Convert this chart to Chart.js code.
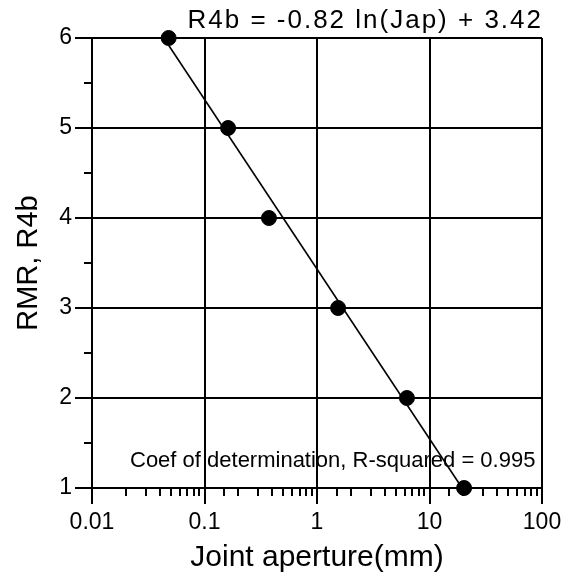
<!DOCTYPE html>
<html>
<head>
<meta charset="utf-8">
<script src="https://cdn.jsdelivr.net/npm/chart.js@4.4.1/dist/chart.umd.min.js"></script>
<style>
  html, body { margin: 0; padding: 0; background: #fff; }
  canvas { display: block; }
</style>
</head>
<body>
<canvas id="chart" width="571" height="584"></canvas>
<script>
// Joint aperture vs RMR rating (R4b)
const jointAperture = [0.048, 0.162, 0.374, 1.54, 6.3, 20.3];
const rmrRating = [6, 5, 4, 3, 2, 1];

// regression line end points, as drawn
const fitAperture = [0.048, 19.5];
const fitRating = [5.92, 1.0];

const xTickLabels = ['0.01', '0.1', '1', '10', '100'];
const yTickLabels = ['1', '2', '3', '4', '5', '6'];

const equationText = 'R4b = -0.82 ln(Jap) + 3.42';
const noteText = 'Coef of determination, R-squared = 0.995';

const FONT = "'Liberation Sans', Arial, Helvetica, sans-serif";

function decadeIndex(v) {
    const e = Math.log10(v);
    return Math.abs(e - Math.round(e)) < 1e-6 ? Math.round(e) + 2 : -1;
}
const isDecade = v => decadeIndex(v) >= 0;
const isWhole = v => Math.abs(v - Math.round(v)) < 1e-6;

// minor ticks, equation and note
const decorations = {
    id: 'decorations',
    beforeDatasetsDraw(chart) {
        const { ctx } = chart;
        ctx.save();
        ctx.fillStyle = '#000';
        ctx.font = '22px ' + FONT;
        ctx.textAlign = 'left';
        ctx.textBaseline = 'alphabetic';
        ctx.fillText(noteText, 130, 467);
        ctx.restore();
    },
    afterDraw(chart) {
        const { ctx, chartArea, scales: { x, y } } = chart;
        ctx.save();
        ctx.strokeStyle = '#000';
        ctx.lineWidth = 2;
        ctx.beginPath();
        x.ticks.forEach(t => {
            if (isDecade(t.value)) return;
            const px = Math.round(x.getPixelForValue(t.value));
            ctx.moveTo(px, chartArea.bottom);
            ctx.lineTo(px, chartArea.bottom + 8);
        });
        y.ticks.forEach(t => {
            if (isWhole(t.value)) return;
            const py = Math.round(y.getPixelForValue(t.value));
            ctx.moveTo(chartArea.left, py);
            ctx.lineTo(chartArea.left - 8, py);
        });
        ctx.stroke();

        ctx.fillStyle = '#000';
        ctx.font = '26px ' + FONT;
        ctx.letterSpacing = '2px';
        ctx.textAlign = 'right';
        ctx.textBaseline = 'alphabetic';
        ctx.fillText(equationText, chartArea.right + 1, 28);
        ctx.restore();
    }
};

new Chart(document.getElementById('chart').getContext('2d'), {
    type: 'scatter',
    data: {
        datasets: [
            {
                label: 'R4b',
                data: jointAperture.map((v, i) => ({ x: v, y: rmrRating[i] })),
                backgroundColor: '#000',
                borderColor: '#000',
                pointRadius: 7.5,
                pointHoverRadius: 7.5,
                clip: false,
                order: 0
            },
            {
                label: 'fit',
                type: 'line',
                data: fitAperture.map((v, i) => ({ x: v, y: fitRating[i] })),
                borderColor: '#000',
                borderWidth: 1.6,
                pointRadius: 0,
                fill: false,
                clip: false,
                order: 1
            }
        ]
    },
    options: {
        responsive: false,
        animation: false,
        layout: { padding: { left: 0, top: 38, right: 29, bottom: 0 } },
        plugins: {
            legend: { display: false },
            tooltip: { enabled: false }
        },
        scales: {
            x: {
                type: 'logarithmic',
                min: 0.01,
                max: 100,
                afterFit: s => { s.height = 96; },
                border: { color: '#000', width: 2 },
                grid: {
                    color: c => (c.tick && isDecade(c.tick.value)) ? '#000' : 'rgba(0,0,0,0)',
                    lineWidth: 2,
                    tickLength: 16,
                    tickWidth: 2,
                    tickColor: c => (c.tick && isDecade(c.tick.value)) ? '#000' : 'rgba(0,0,0,0)'
                },
                ticks: {
                    autoSkip: false,
                    maxRotation: 0,
                    color: '#000',
                    padding: 5,
                    font: { family: FONT, size: 23 },
                    callback: v => {
                        const i = decadeIndex(v);
                        return i >= 0 ? xTickLabels[i] : '';
                    }
                },
                title: {
                    display: true,
                    text: 'Joint aperture(mm)',
                    color: '#000',
                    font: { family: FONT, size: 30 },
                    padding: { top: 8, bottom: 8 }
                }
            },
            y: {
                min: 1,
                max: 6,
                afterFit: s => { s.width = 92; },
                border: { color: '#000', width: 2 },
                grid: {
                    color: c => (c.tick && isWhole(c.tick.value)) ? '#000' : 'rgba(0,0,0,0)',
                    lineWidth: 2,
                    tickLength: 17,
                    tickWidth: 2,
                    tickColor: c => (c.tick && isWhole(c.tick.value)) ? '#000' : 'rgba(0,0,0,0)'
                },
                ticks: {
                    stepSize: 0.5,
                    autoSkip: false,
                    color: '#000',
                    padding: 3,
                    font: { family: FONT, size: 23 },
                    callback: v => isWhole(v) ? yTickLabels[Math.round(v) - 1] : ''
                },
                title: {
                    display: true,
                    text: 'RMR, R4b',
                    color: '#000',
                    font: { family: FONT, size: 29 },
                    padding: { top: 12, bottom: 12 }
                }
            }
        }
    },
    plugins: [decorations]
});
</script>
</body>
</html>
